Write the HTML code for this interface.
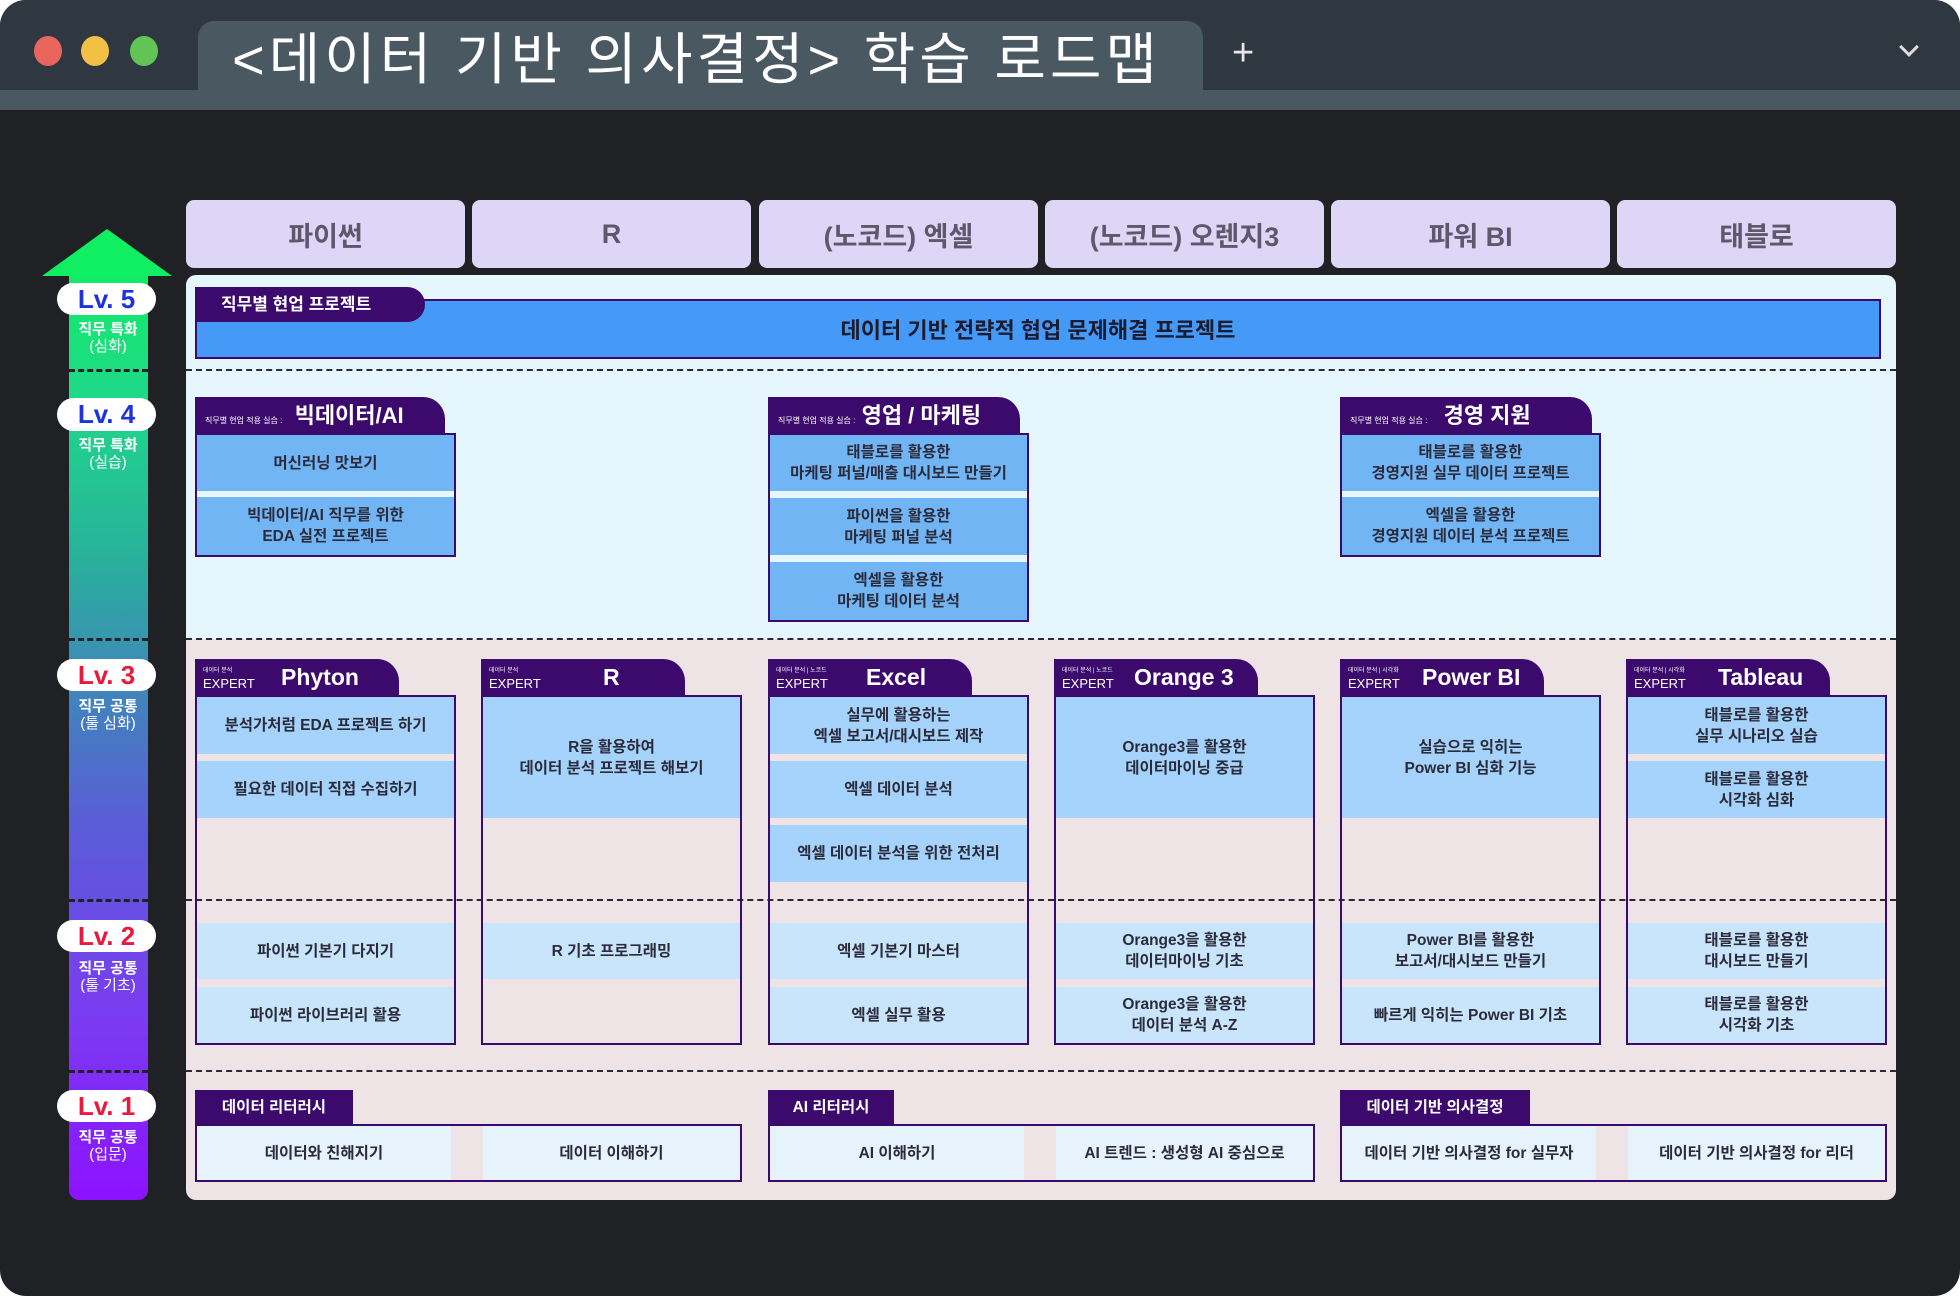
<!DOCTYPE html>
<html><head><meta charset="utf-8"><style>
*{margin:0;padding:0;box-sizing:border-box}
body{width:1960px;height:1296px;background:#fff;font-family:"Liberation Sans","Noto Sans CJK KR",sans-serif;position:relative;overflow:hidden}
.a{position:absolute}
.frame{left:0;top:0;width:1960px;height:1296px;background:#1f2125;border-radius:26px;overflow:hidden}
.hd{left:186px;top:200px;width:279px;height:68px;background:#ddd6f7;border-radius:8px;display:flex;align-items:center;justify-content:center;font-weight:bold;font-size:27px;color:#5f586c}
.card{border:2px solid #3a0a6e;}
.it{position:absolute;left:0;right:0;display:flex;align-items:center;justify-content:center;text-align:center;font-size:15.5px;line-height:21px;color:#2b2b3b;font-weight:bold}
.tab{background:#3b0a6c;color:#fff;border-radius:0 22px 0 0;font-weight:bold}
.dash{height:0;border-top:2px dashed #2a2a38}
.pill{background:#fff;border-radius:20px;display:flex;align-items:center;justify-content:center;font-weight:900;font-size:26px;font-family:"Liberation Sans",sans-serif}
.sub{color:#fff;font-size:15px;font-weight:bold;text-align:center;line-height:17px;width:80px}
.sub span{font-weight:normal;font-size:15px}
</style></head><body>
<div class="a frame">
 <div class="a" style="left:0;top:0;width:1960px;height:110px;background:#2f3840"></div>
 <div class="a" style="left:0;top:90px;width:1960px;height:20px;background:#4a5861"></div>
 <div class="a" style="left:198px;top:21px;width:1005px;height:89px;background:#4a5861;border-radius:16px 16px 0 0"></div>
 <div class="a" style="left:34px;top:36px;width:28px;height:30px;border-radius:50%;background:#e8665c"></div>
 <div class="a" style="left:81px;top:36px;width:28px;height:30px;border-radius:50%;background:#f2c044"></div>
 <div class="a" style="left:130px;top:36px;width:28px;height:30px;border-radius:50%;background:#62c454"></div>
 <div class="a" style="left:232px;top:24px;font-size:56px;letter-spacing:4px;color:#fff;line-height:72px;white-space:nowrap">&lt;데이터 기반 의사결정&gt; 학습 로드맵</div>
 <div class="a" style="left:1232px;top:28px;font-size:38px;color:#e8e8e8;line-height:50px">+</div>
 <div class="a" style="left:1902px;top:40px;width:14px;height:14px;border-right:3px solid #ddd;border-bottom:3px solid #ddd;transform:rotate(45deg)"></div>

 <div class="a hd" style="left:186px">파이썬</div>
 <div class="a hd" style="left:472px">R</div>
 <div class="a hd" style="left:759px">(노코드) 엑셀</div>
 <div class="a hd" style="left:1045px">(노코드) 오렌지3</div>
 <div class="a hd" style="left:1331px">파워 BI</div>
 <div class="a hd" style="left:1617px">태블로</div>

 <div class="a" style="left:186px;top:275px;width:1710px;height:364px;background:#e6f6fd;border-radius:10px 10px 0 0"></div>
 <div class="a" style="left:186px;top:639px;width:1710px;height:432px;background:#eee4e6"></div>
 <div class="a" style="left:186px;top:1071px;width:1710px;height:129px;background:#eee4e6;border-radius:0 0 10px 10px"></div>
 <div class="a dash" style="left:186px;top:369px;width:1710px"></div>
 <div class="a dash" style="left:186px;top:638px;width:1710px"></div>
 <div class="a dash" style="left:186px;top:899px;width:1710px"></div>
 <div class="a dash" style="left:186px;top:1070px;width:1710px"></div>

 <div class="a" style="left:69px;top:270px;width:79px;height:930px;border-radius:0 0 10px 10px;background:linear-gradient(#12ec66 0%,#1fd88a 14%,#27b39a 30%,#3a8fb4 42%,#5a5cd8 60%,#7a3cf0 80%,#8c12ff 100%)"></div>
 <div class="a" style="left:42px;top:229px;width:0;height:0;border-left:65px solid transparent;border-right:65px solid transparent;border-bottom:47px solid #10ee62"></div>
 <div class="a dash" style="left:69px;top:369px;width:79px;border-top:3px dashed #1f2125"></div>
 <div class="a dash" style="left:69px;top:638px;width:79px;border-top:3px dashed #1f2125"></div>
 <div class="a dash" style="left:69px;top:899px;width:79px;border-top:3px dashed #1f2125"></div>
 <div class="a dash" style="left:69px;top:1070px;width:79px;border-top:3px dashed #1f2125"></div>

 <div class="a pill" style="left:57px;top:283px;width:99px;height:32px;color:#1b32de">Lv. 5</div>
 <div class="a sub" style="left:68px;top:321px">직무 특화<br><span>(심화)</span></div>
 <div class="a pill" style="left:57px;top:398px;width:99px;height:33px;color:#1b32de">Lv. 4</div>
 <div class="a sub" style="left:68px;top:437px">직무 특화<br><span>(실습)</span></div>
 <div class="a pill" style="left:57px;top:659px;width:99px;height:32px;color:#e8193c">Lv. 3</div>
 <div class="a sub" style="left:68px;top:698px">직무 공통<br><span>(툴 심화)</span></div>
 <div class="a pill" style="left:57px;top:920px;width:99px;height:32px;color:#e8193c">Lv. 2</div>
 <div class="a sub" style="left:68px;top:960px">직무 공통<br><span>(툴 기초)</span></div>
 <div class="a pill" style="left:57px;top:1090px;width:99px;height:32px;color:#e8193c">Lv. 1</div>
 <div class="a sub" style="left:68px;top:1129px">직무 공통<br><span>(입문)</span></div>

 <div class="a card" style="left:195px;top:299px;width:1686px;height:60px;background:#4599f7"></div>
 <div class="a tab" style="left:195px;top:287px;width:230px;height:35px;border-radius:0 20px 20px 0;font-size:17px;line-height:35px;padding-left:26px">직무별 현업 프로젝트</div>
 <div class="a" style="left:195px;top:313px;width:1686px;text-align:center;font-size:22px;font-weight:bold;color:#1c1c30">데이터 기반 전략적 협업 문제해결 프로젝트</div>

 <div class="a tab" style="left:195px;top:397px;width:250px;height:37px;line-height:37px;padding-left:10px;white-space:nowrap"><span style="font-size:8px;font-weight:normal">직무별 현업 적용 실습 : </span><span style="font-size:22px;margin-left:10px">빅데이터/AI</span></div>
 <div class="a card" style="left:195px;top:433px;width:261px;height:124px;background:#e6f6fd">
  <div class="it" style="top:0;height:56px;background:#72b5f5">머신러닝 맛보기</div>
  <div class="it" style="top:62px;height:58px;background:#72b5f5">빅데이터/AI 직무를 위한<br>EDA 실전 프로젝트</div>
 </div>
 <div class="a tab" style="left:768px;top:397px;width:252px;height:37px;line-height:37px;padding-left:10px;white-space:nowrap"><span style="font-size:8px;font-weight:normal">직무별 현업 적용 실습 : </span><span style="font-size:22px;margin-left:4px">영업 / 마케팅</span></div>
 <div class="a card" style="left:768px;top:433px;width:261px;height:189px;background:#e6f6fd">
  <div class="it" style="top:0;height:56px;background:#72b5f5">태블로를 활용한<br>마케팅 퍼널/매출 대시보드 만들기</div>
  <div class="it" style="top:63px;height:57px;background:#72b5f5">파이썬을 활용한<br>마케팅 퍼널 분석</div>
  <div class="it" style="top:127px;height:58px;background:#72b5f5">엑셀을 활용한<br>마케팅 데이터 분석</div>
 </div>
 <div class="a tab" style="left:1340px;top:397px;width:252px;height:37px;line-height:37px;padding-left:10px;white-space:nowrap"><span style="font-size:8px;font-weight:normal">직무별 현업 적용 실습 : </span><span style="font-size:22px;margin-left:14px">경영 지원</span></div>
 <div class="a card" style="left:1340px;top:433px;width:261px;height:124px;background:#e6f6fd">
  <div class="it" style="top:0;height:56px;background:#72b5f5">태블로를 활용한<br>경영지원 실무 데이터 프로젝트</div>
  <div class="it" style="top:62px;height:58px;background:#72b5f5">엑셀을 활용한<br>경영지원 데이터 분석 프로젝트</div>
 </div>

 <div class="a tab" style="left:195px;top:659px;width:204px;height:37px"><div class="a" style="left:8px;top:6px;font-size:6px;font-weight:normal">데이터 분석</div><div class="a" style="left:8px;top:17px;font-size:13px;font-weight:normal">EXPERT</div><div class="a" style="left:86px;top:5px;font-size:23px">Phyton</div></div>
 <div class="a card" style="left:195px;top:695px;width:261px;height:350px">
  <div class="it" style="top:0;height:57px;background:#a5d3fb">분석가처럼 EDA 프로젝트 하기</div>
  <div class="it" style="top:64px;height:57px;background:#a5d3fb">필요한 데이터 직접 수집하기</div>
  <div class="it" style="top:226px;height:56px;background:#c9e5fb">파이썬 기본기 다지기</div>
  <div class="it" style="top:290px;height:56px;background:#c9e5fb">파이썬 라이브러리 활용</div>
 </div>
 <div class="a tab" style="left:481px;top:659px;width:204px;height:37px"><div class="a" style="left:8px;top:6px;font-size:6px;font-weight:normal">데이터 분석</div><div class="a" style="left:8px;top:17px;font-size:13px;font-weight:normal">EXPERT</div><div class="a" style="left:122px;top:5px;font-size:23px">R</div></div>
 <div class="a card" style="left:481px;top:695px;width:261px;height:350px">
  <div class="it" style="top:0;height:121px;background:#a5d3fb">R을 활용하여<br>데이터 분석 프로젝트 해보기</div>
  <div class="it" style="top:226px;height:56px;background:#c9e5fb">R 기초 프로그래밍</div>
 </div>
 <div class="a tab" style="left:768px;top:659px;width:204px;height:37px"><div class="a" style="left:8px;top:6px;font-size:6px;font-weight:normal">데이터 분석 | 노코드</div><div class="a" style="left:8px;top:17px;font-size:13px;font-weight:normal">EXPERT</div><div class="a" style="left:98px;top:5px;font-size:23px">Excel</div></div>
 <div class="a card" style="left:768px;top:695px;width:261px;height:350px">
  <div class="it" style="top:0;height:57px;background:#a5d3fb">실무에 활용하는<br>엑셀 보고서/대시보드 제작</div>
  <div class="it" style="top:64px;height:57px;background:#a5d3fb">엑셀 데이터 분석</div>
  <div class="it" style="top:128px;height:57px;background:#a5d3fb">엑셀 데이터 분석을 위한 전처리</div>
  <div class="it" style="top:226px;height:56px;background:#c9e5fb">엑셀 기본기 마스터</div>
  <div class="it" style="top:290px;height:56px;background:#c9e5fb">엑셀 실무 활용</div>
 </div>
 <div class="a tab" style="left:1054px;top:659px;width:204px;height:37px"><div class="a" style="left:8px;top:6px;font-size:6px;font-weight:normal">데이터 분석 | 노코드</div><div class="a" style="left:8px;top:17px;font-size:13px;font-weight:normal">EXPERT</div><div class="a" style="left:80px;top:5px;font-size:23px">Orange 3</div></div>
 <div class="a card" style="left:1054px;top:695px;width:261px;height:350px">
  <div class="it" style="top:0;height:121px;background:#a5d3fb">Orange3를 활용한<br>데이터마이닝 중급</div>
  <div class="it" style="top:226px;height:56px;background:#c9e5fb">Orange3을 활용한<br>데이터마이닝 기초</div>
  <div class="it" style="top:290px;height:56px;background:#c9e5fb">Orange3을 활용한<br>데이터 분석 A-Z</div>
 </div>
 <div class="a tab" style="left:1340px;top:659px;width:204px;height:37px"><div class="a" style="left:8px;top:6px;font-size:6px;font-weight:normal">데이터 분석 | 시각화</div><div class="a" style="left:8px;top:17px;font-size:13px;font-weight:normal">EXPERT</div><div class="a" style="left:82px;top:5px;font-size:23px">Power BI</div></div>
 <div class="a card" style="left:1340px;top:695px;width:261px;height:350px">
  <div class="it" style="top:0;height:121px;background:#a5d3fb">실습으로 익히는<br>Power BI 심화 기능</div>
  <div class="it" style="top:226px;height:56px;background:#c9e5fb">Power BI를 활용한<br>보고서/대시보드 만들기</div>
  <div class="it" style="top:290px;height:56px;background:#c9e5fb">빠르게 익히는 Power BI 기초</div>
 </div>
 <div class="a tab" style="left:1626px;top:659px;width:204px;height:37px"><div class="a" style="left:8px;top:6px;font-size:6px;font-weight:normal">데이터 분석 | 시각화</div><div class="a" style="left:8px;top:17px;font-size:13px;font-weight:normal">EXPERT</div><div class="a" style="left:92px;top:5px;font-size:23px">Tableau</div></div>
 <div class="a card" style="left:1626px;top:695px;width:261px;height:350px">
  <div class="it" style="top:0;height:57px;background:#a5d3fb">태블로를 활용한<br>실무 시나리오 실습</div>
  <div class="it" style="top:64px;height:57px;background:#a5d3fb">태블로를 활용한<br>시각화 심화</div>
  <div class="it" style="top:226px;height:56px;background:#c9e5fb">태블로를 활용한<br>대시보드 만들기</div>
  <div class="it" style="top:290px;height:56px;background:#c9e5fb">태블로를 활용한<br>시각화 기초</div>
 </div>

 <div class="a" style="left:195px;top:1090px;width:158px;height:35px;background:#3b0a6c;color:#fff;font-weight:bold;font-size:15.5px;line-height:35px;text-align:center">데이터 리터러시</div>
 <div class="a card" style="left:195px;top:1124px;width:547px;height:58px;background:#eee4e6">
  <div class="it" style="left:0;right:auto;width:254px;top:0;height:54px;background:#e6f3fd">데이터와 친해지기</div>
  <div class="it" style="left:286px;right:0;top:0;height:54px;background:#e6f3fd">데이터 이해하기</div>
 </div>
 <div class="a" style="left:768px;top:1090px;width:126px;height:35px;background:#3b0a6c;color:#fff;font-weight:bold;font-size:15.5px;line-height:35px;text-align:center">AI 리터러시</div>
 <div class="a card" style="left:768px;top:1124px;width:547px;height:58px;background:#eee4e6">
  <div class="it" style="left:0;right:auto;width:254px;top:0;height:54px;background:#e6f3fd">AI 이해하기</div>
  <div class="it" style="left:286px;right:0;top:0;height:54px;background:#e6f3fd">AI 트렌드 : 생성형 AI 중심으로</div>
 </div>
 <div class="a" style="left:1340px;top:1090px;width:190px;height:35px;background:#3b0a6c;color:#fff;font-weight:bold;font-size:15.5px;line-height:35px;text-align:center">데이터 기반 의사결정</div>
 <div class="a card" style="left:1340px;top:1124px;width:547px;height:58px;background:#eee4e6">
  <div class="it" style="left:0;right:auto;width:254px;top:0;height:54px;background:#e6f3fd">데이터 기반 의사결정 for 실무자</div>
  <div class="it" style="left:286px;right:0;top:0;height:54px;background:#e6f3fd">데이터 기반 의사결정 for 리더</div>
 </div>
</div>
</body></html>
